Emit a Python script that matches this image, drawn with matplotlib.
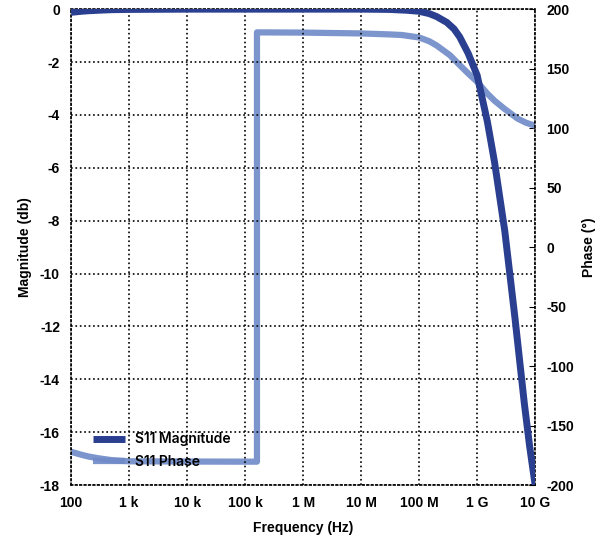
import numpy as np
import matplotlib.pyplot as plt
from matplotlib.ticker import FixedLocator

# Data
mag_freq = [1e2, 1.5e2, 2e2, 3e2, 5e2, 1e3, 1e4, 1e5, 1e6, 1e7, 3e7, 6e7, 1e8, 1.5e8,
            2e8, 3e8, 4e8, 5e8, 7e8, 1e9, 1.5e9, 2e9, 3e9, 4.5e9, 6.5e9, 8e9, 1e10]
mag_db = [-0.12, -0.08, -0.06, -0.04, -0.02, -0.01, 0, 0, 0, 0, -0.01, -0.04, -0.08, -0.17,
          -0.28, -0.5, -0.75, -1.05, -1.67, -2.5, -4.25, -5.8, -8.4, -11.7, -14.9, -16.5,
          -18.0]

phase_freq = [1e2, 1.5e2, 2e2, 3e2, 5e2, 7e2, 1e3, 1e4, 1e5, 1.6e5, 1.6e5, 1e6, 1e7,
              3e7, 5e7, 1e8, 1.5e8, 2e8, 3.4e8, 5e8, 7e8, 1e9, 1.5e9, 2e9, 3e9, 5e9,
              7e9, 1e10]
phase_deg = [-172, -174.5, -176, -177.5, -179, -179.5, -180, -180.2, -180.3, -180.3, 180.5,
             180.3, 179.6, 178.8, 178.3, 176.2, 173, 169.5, 161.3, 153, 146, 139,
             129, 123, 116, 108, 104.5, 102]

xticks = [1e2, 1e3, 1e4, 1e5, 1e6, 1e7, 1e8, 1e9, 1e10]
xlabels = ["100", "1 k", "10 k", "100 k", "1 M", "10 M", "100 M", "1 G", "10 G"]

dark = "#2a3f8f"
light = "#6f8ac8"

plt.rcParams['font.family'] = ['Liberation Sans', 'DejaVu Sans']
plt.rcParams['axes.unicode_minus'] = False

fig = plt.figure(figsize=(6.13, 5.39), dpi=100)
ax = fig.add_axes([0.116, 0.100, 0.757, 0.883])
ax2 = ax.twinx()

l1, = ax.plot(mag_freq, mag_db, color=dark, lw=5, solid_capstyle='butt',
              solid_joinstyle='round', zorder=3)
l2, = ax2.plot(phase_freq, phase_deg, color=light, lw=4.5, alpha=0.9,
               solid_capstyle='butt', solid_joinstyle='round')

ax.set_xscale('log')
ax.set_xlim(1e2, 1e10)
ax.set_ylim(-18, 0)
ax2.set_ylim(-200, 200)
ax.set_xticks(xticks, xlabels)
ax.xaxis.set_minor_locator(FixedLocator([]))
ax.set_yticks(np.arange(-18, 1, 2))
ax2.set_yticks(np.arange(-200, 201, 50))

ax.grid(True, color='black', linestyle=':', linewidth=1.2)
for sp in ax.spines.values():
    sp.set_linestyle(':')
    sp.set_linewidth(1.2)
for sp in ax2.spines.values():
    sp.set_visible(False)

ax.tick_params(axis='both', direction='in', length=0, labelsize=10, pad=8)
ax2.tick_params(axis='y', direction='in', length=4, labelsize=10, pad=8)
for lab in ax.get_xticklabels() + ax.get_yticklabels() + ax2.get_yticklabels():
    lab.set_fontweight('bold')

ax.set_xlabel("Frequency (Hz)", fontsize=10, fontweight='bold', labelpad=8)
ax.set_ylabel("Magnitude (db)", fontsize=10, fontweight='bold', labelpad=6)
ax2.set_ylabel("Phase (°)", fontsize=10, fontweight='bold', labelpad=6)

ax2.set_zorder(ax.get_zorder() - 1)
ax.patch.set_visible(False)

leg = ax.legend([l1, l2], ["S11 Magnitude", "S11 Phase"], loc='lower left',
                bbox_to_anchor=(0.02, 0.008), frameon=False, handlelength=2.3,
                handletextpad=0.7, labelspacing=0.6,
                prop={'family': 'Inter', 'size': 10, 'weight': 600})

fig.savefig("out.png", dpi=100)
